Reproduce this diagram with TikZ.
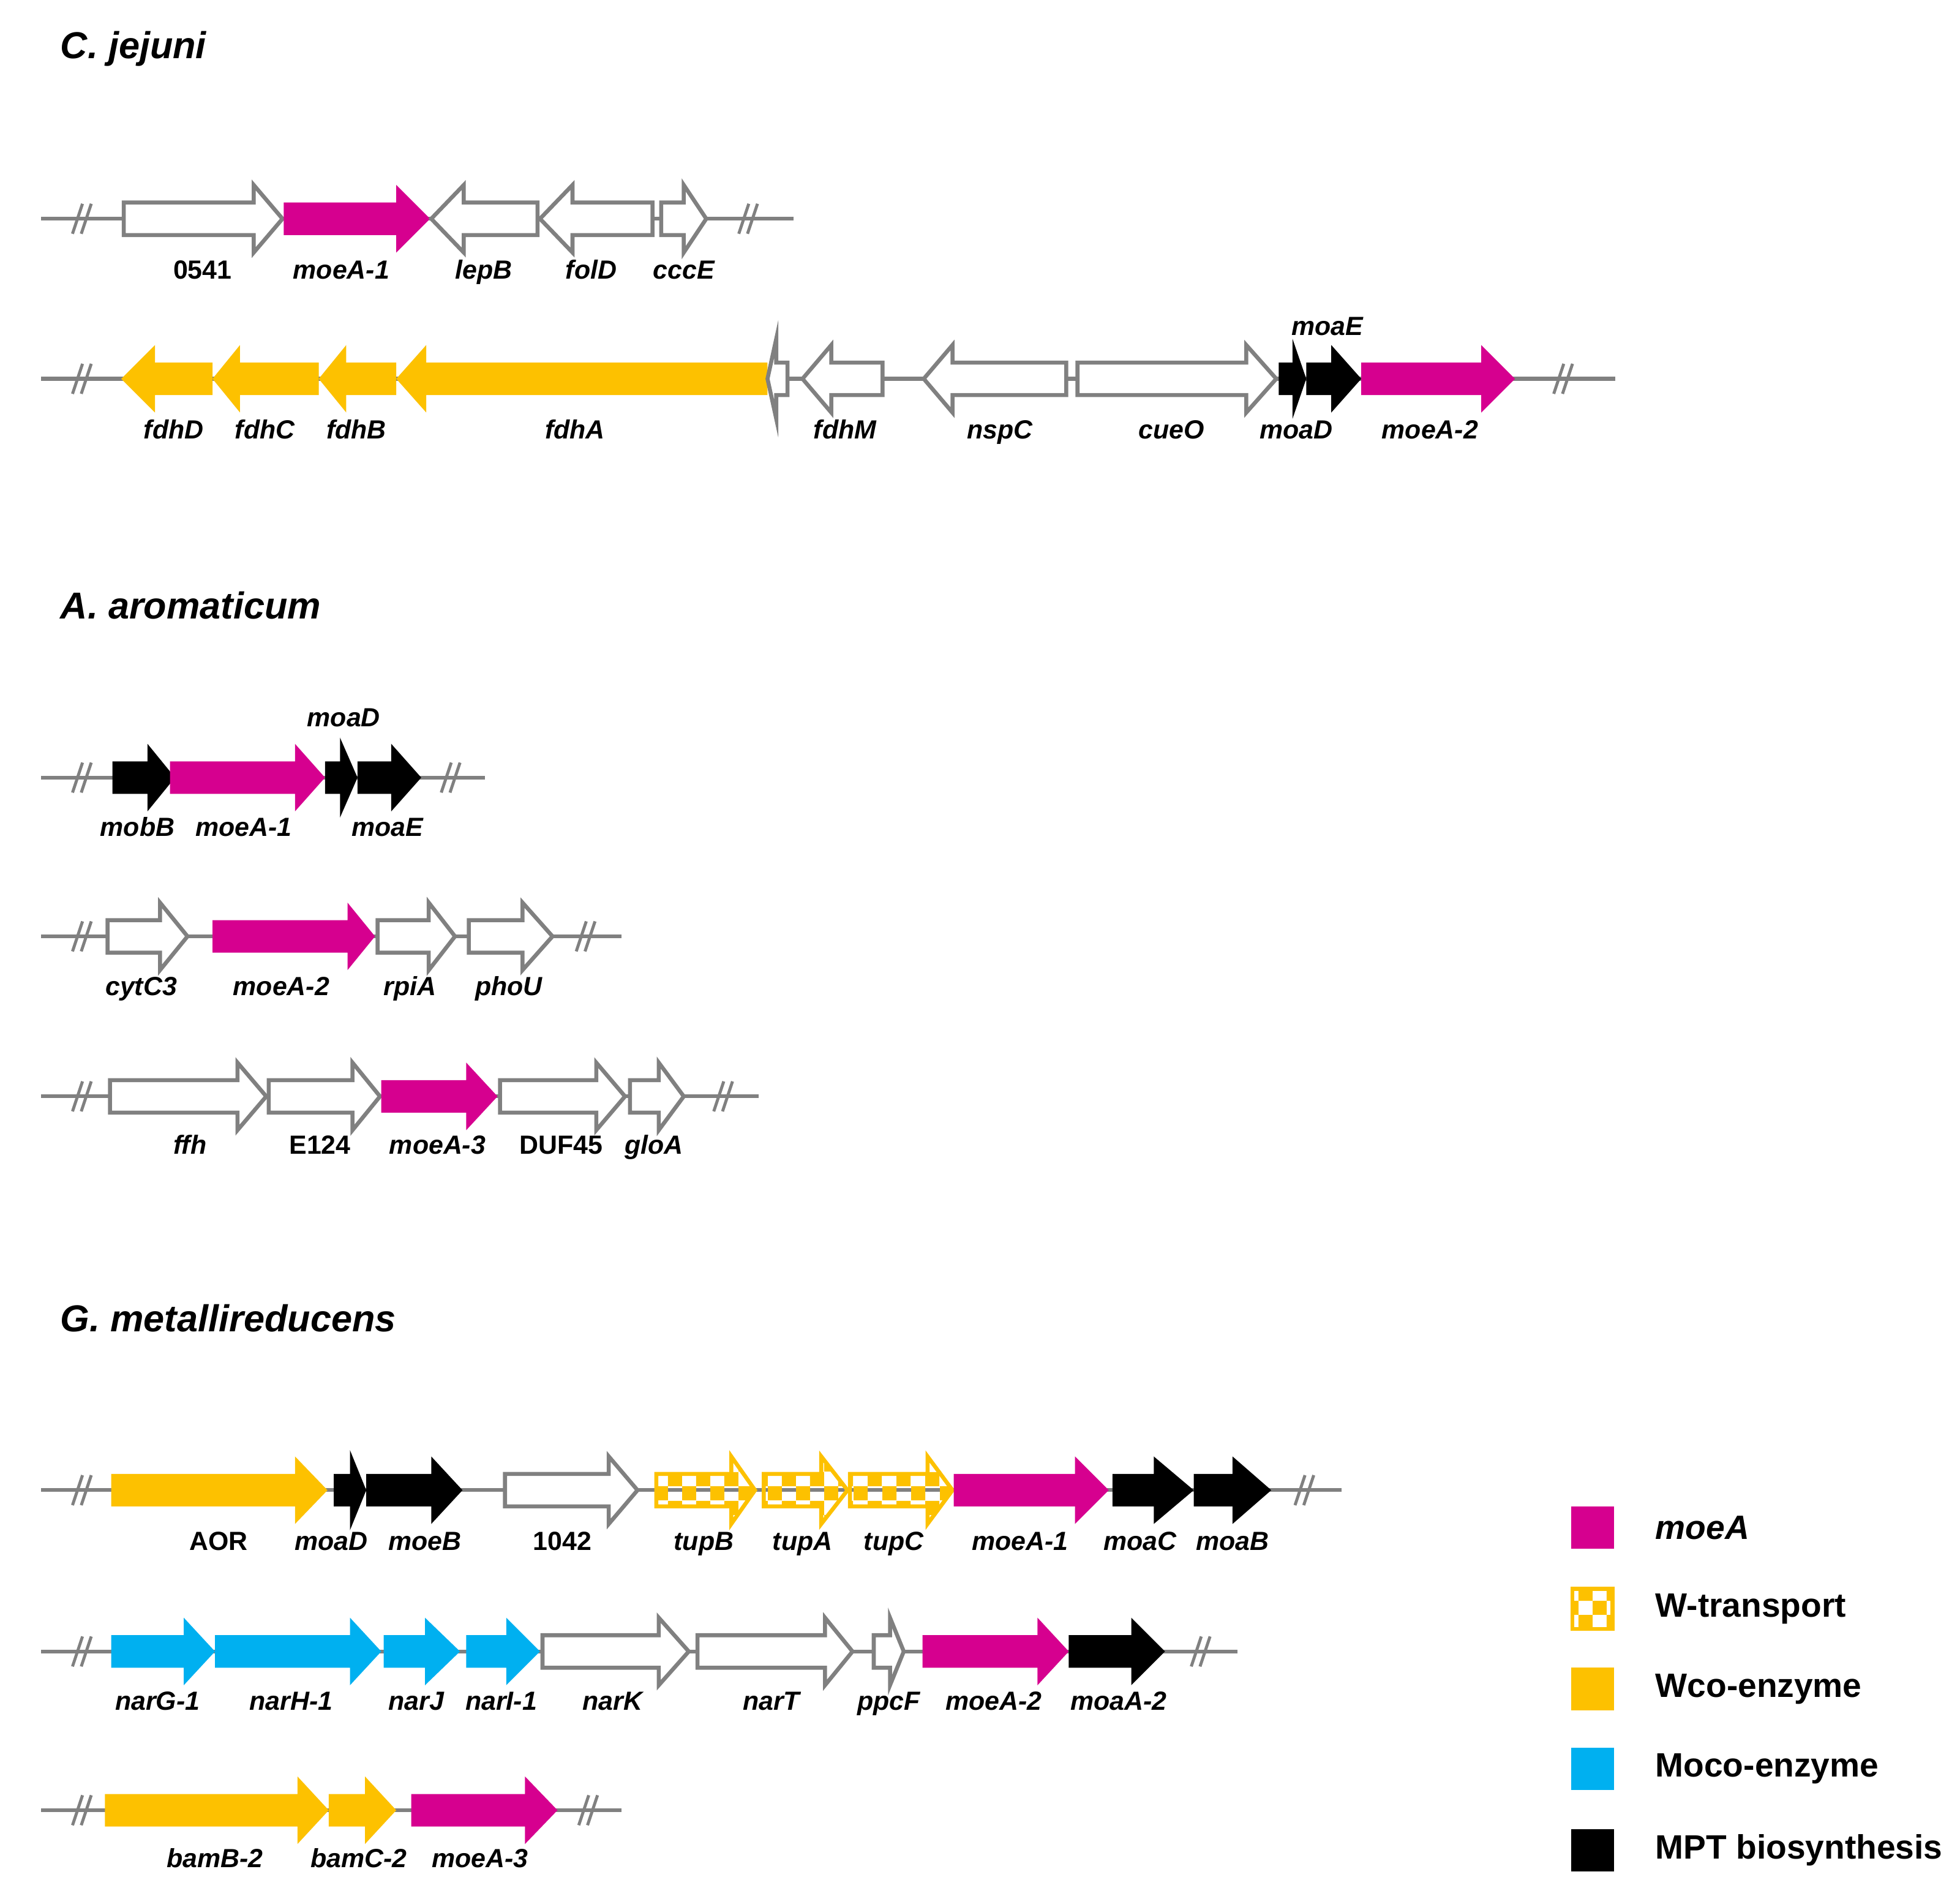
\documentclass[tikz,border=0pt]{standalone}
\usepackage{fontspec}
\setmainfont{Liberation Sans}
\usetikzlibrary{patterns}
\definecolor{mg}{HTML}{D6008F}
\definecolor{yl}{HTML}{FDC100}
\definecolor{bl}{HTML}{00B0F0}
\definecolor{gr}{HTML}{808080}
\tikzset{
 chrom/.style={gr,line width=1.5pt},
 brk/.style={gr,line width=1.2pt},
 og/.style={draw=gr,line width=1.6pt,fill=white},
 mgf/.style={fill=mg},
 ylf/.style={fill=yl},
 blf/.style={fill=bl},
 bkf/.style={fill=black},
 wt/.style={draw=yl,line width=1.6pt,pattern=checkerboard,pattern color=yl},
 lab/.style={font=\fontsize{10.5}{12}\selectfont\bfseries\itshape,anchor=base,inner sep=0},
 labn/.style={font=\fontsize{10.5}{12}\selectfont\bfseries,anchor=base,inner sep=0},
 ttl/.style={font=\fontsize{15}{18}\selectfont\bfseries\itshape,anchor=base west,inner sep=0},
 leg/.style={font=\fontsize{13.5}{16}\selectfont\bfseries,anchor=west,inner sep=0},
}
% right gene: [H]{start}{base}{tip}{y}{style}
\newcommand\rgene[6][27]{\path[#6] (#2,{#5-13}) -- (#3,{#5-13}) -- (#3,{#5-#1}) -- (#4,#5) -- (#3,{#5+#1}) -- (#3,{#5+13}) -- (#2,{#5+13}) -- cycle;}
% left gene: [H]{tip}{base}{end}{y}{style}
\newcommand\lgene[6][27]{\path[#6] (#4,{#5-13}) -- (#3,{#5-13}) -- (#3,{#5-#1}) -- (#2,#5) -- (#3,{#5+#1}) -- (#3,{#5+13}) -- (#4,{#5+13}) -- cycle;}
\newcommand\chr[3]{\draw[chrom] (#1,#3) -- (#2,#3);}
\newcommand\brkm[2]{\draw[brk] ({#1-7},{#2+12}) -- ({#1+1},{#2-12}); \draw[brk] ({#1},{#2+12}) -- ({#1+8},{#2-12});}
\begin{document}
\begin{tikzpicture}[x=0.5pt,y=-0.5pt]
\useasboundingbox[fill=white] (0,0) rectangle (1568,1519);
% titles
\node[ttl] (t1) at (48,47) {C. jejuni};
\node[ttl] (t2) at (48,495) {A. aromaticum};
\node[ttl] (t3) at (48,1065) {G. metallireducens};
% Row 1
\chr{33}{635}{175}\brkm{65}{175}\brkm{598}{175}
\rgene{99}{203}{226}{175}{og}
\rgene{227}{317}{344}{175}{mgf}
\lgene{345}{371}{430}{175}{og}
\lgene{432}{458}{522}{175}{og}
\rgene{529}{547}{565}{175}{og}
\node[labn] (l11) at (162,223) {0541};
\node[lab] (l12) at (273,223) {moeA-1};
\node[lab] (l13) at (387,223) {lepB};
\node[lab] (l14) at (473,223) {folD};
\node[lab] (l15) at (547,223) {cccE};
% Row 2
\chr{33}{1292}{303}\brkm{65}{303}\brkm{1250}{303}
\lgene{97}{124}{170}{303}{ylf}
\lgene{170}{192}{255}{303}{ylf}
\lgene{255}{277}{317}{303}{ylf}
\lgene{317}{341}{614}{303}{ylf}
\lgene[32]{614}{621}{630}{303}{og}
\lgene{642}{665}{706}{303}{og}
\lgene{739}{762}{853}{303}{og}
\rgene{862}{997}{1021}{303}{og}
\rgene[32]{1023}{1034}{1045}{303}{bkf}
\rgene{1045}{1065}{1089}{303}{bkf}
\rgene{1089}{1185}{1212}{303}{mgf}
\node[lab] (l21) at (139,351) {fdhD};
\node[lab] (l22) at (212,351) {fdhC};
\node[lab] (l23) at (285,351) {fdhB};
\node[lab] (l24) at (460,351) {fdhA};
\node[lab] (l25) at (676,351) {fdhM};
\node[lab] (l26) at (800,351) {nspC};
\node[lab] (l27) at (937,351) {cueO};
\node[lab] (l28) at (1037,351) {moaD};
\node[lab] (l29) at (1144,351) {moeA-2};
\node[lab] (l2a) at (1062,268) {moaE};
% Row 3
\chr{33}{388}{622}\brkm{65}{622}\brkm{360}{622}
\rgene{90}{118}{140}{622}{bkf}
\rgene{136}{236}{260}{622}{mgf}
\rgene[32]{260}{272}{286}{622}{bkf}
\rgene{286}{313}{337}{622}{bkf}
\node[lab] (l31) at (110,669) {mobB};
\node[lab] (l32) at (195,669) {moeA-1};
\node[lab] (l33) at (310,669) {moaE};
\node[lab] (l34) at (275,581) {moaD};
% Row 4
\chr{33}{497}{749}\brkm{65}{749}\brkm{468}{749}
\rgene{86}{128}{150}{749}{og}
\rgene{170}{278}{300}{749}{mgf}
\rgene{302}{343}{364}{749}{og}
\rgene{375}{418}{442}{749}{og}
\node[lab] (l41) at (113,796) {cytC3};
\node[lab] (l42) at (225,796) {moeA-2};
\node[lab] (l43) at (328,796) {rpiA};
\node[lab] (l44) at (407,796) {phoU};
% Row 5
\chr{33}{607}{877}\brkm{65}{877}\brkm{578}{877}
\rgene{88}{190}{213}{877}{og}
\rgene{215}{282}{304}{877}{og}
\rgene{305}{373}{398}{877}{mgf}
\rgene{400}{477}{500}{877}{og}
\rgene{504}{527}{547}{877}{og}
\node[lab] (l51) at (152,923) {ffh};
\node[labn] (l52) at (256,923) {E124};
\node[lab] (l53) at (350,923) {moeA-3};
\node[labn] (l54) at (449,923) {DUF45};
\node[lab] (l55) at (523,923) {gloA};
% Row 6
\chr{33}{1073}{1192}\brkm{65}{1192}\brkm{1043}{1192}
\rgene{89}{236}{262}{1192}{ylf}
\rgene[32]{267}{280}{293}{1192}{bkf}
\rgene{293}{345}{370}{1192}{bkf}
\rgene{404}{487}{510}{1192}{og}
\rgene{525}{585}{604}{1192}{wt}
\rgene{611}{657}{678}{1192}{wt}
\rgene{680}{742}{762}{1192}{wt}
\rgene{763}{860}{887}{1192}{mgf}
\rgene{890}{923}{955}{1192}{bkf}
\rgene{955}{986}{1017}{1192}{bkf}
\node[labn] (l61) at (175,1240) {AOR};
\node[lab] (l62) at (265,1240) {moaD};
\node[lab] (l63) at (340,1240) {moeB};
\node[labn] (l64) at (450,1240) {1042};
\node[lab] (l65) at (563,1240) {tupB};
\node[lab] (l66) at (642,1240) {tupA};
\node[lab] (l67) at (715,1240) {tupC};
\node[lab] (l68) at (816,1240) {moeA-1};
\node[lab] (l69) at (912,1240) {moaC};
\node[lab] (l6a) at (986,1240) {moaB};
% Row 7
\chr{33}{990}{1321}\brkm{65}{1321}\brkm{960}{1321}
\rgene{89}{147}{172}{1321}{blf}
\rgene{172}{280}{305}{1321}{blf}
\rgene{307}{340}{368}{1321}{blf}
\rgene{373}{405}{432}{1321}{blf}
\rgene{434}{527}{551}{1321}{og}
\rgene{558}{660}{682}{1321}{og}
\rgene{699}{712}{723}{1321}{og}
\rgene{738}{830}{855}{1321}{mgf}
\rgene{855}{905}{932}{1321}{bkf}
\node[lab] (l71) at (126,1368) {narG-1};
\node[lab] (l72) at (233,1368) {narH-1};
\node[lab] (l73) at (333,1368) {narJ};
\node[lab] (l74) at (401,1368) {narI-1};
\node[lab] (l75) at (490,1368) {narK};
\node[lab] (l76) at (617,1368) {narT};
\node[lab] (l77) at (711,1368) {ppcF};
\node[lab] (l78) at (795,1368) {moeA-2};
\node[lab] (l79) at (895,1368) {moaA-2};
% Row 8
\chr{33}{497}{1448}\brkm{65}{1448}\brkm{470}{1448}
\rgene{84}{238}{263}{1448}{ylf}
\rgene{263}{292}{317}{1448}{ylf}
\rgene{329}{420}{446}{1448}{mgf}
\node[lab] (l81) at (172,1494) {bamB-2};
\node[lab] (l82) at (287,1494) {bamC-2};
\node[lab] (l83) at (384,1494) {moeA-3};
% Legend
\path[mgf] (1257,1205) rectangle (1291,1239);
\path[wt] (1258,1271) rectangle (1290,1303);
\path[ylf] (1257,1334) rectangle (1291,1368);
\path[blf] (1257,1398) rectangle (1291,1432);
\path[bkf] (1257,1463) rectangle (1291,1497);
\node[leg,font=\fontsize{13.5}{16}\selectfont\bfseries\itshape] (g1) at (1324,1222) {moeA};
\node[leg] (g2) at (1324,1287) {W-transport};
\node[leg] (g3) at (1324,1351) {Wco-enzyme};
\node[leg] (g4) at (1324,1415) {Moco-enzyme};
\node[leg] (g5) at (1324,1480) {MPT biosynthesis};
\end{tikzpicture}
\end{document}
